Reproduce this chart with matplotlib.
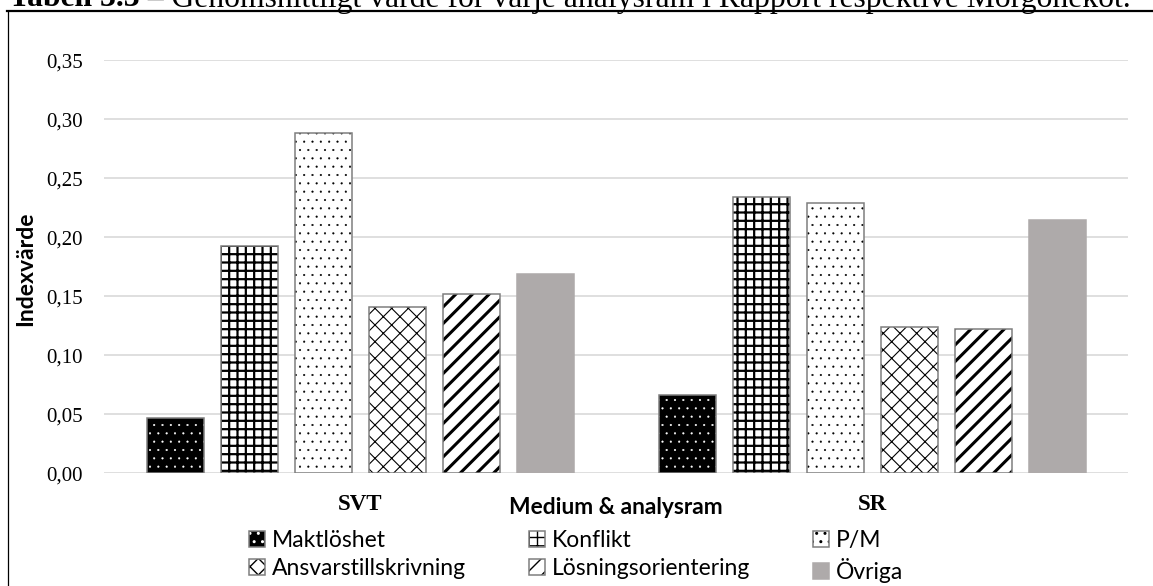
import matplotlib
matplotlib.use("Agg")
import matplotlib.pyplot as plt
from matplotlib.lines import Line2D
from matplotlib.legend_handler import HandlerTuple

# Values
media = ["SVT", "SR"]
frames = ["Maktlöshet", "Konflikt", "P/M", "Ansvarstillskrivning",
          "Lösningsorientering", "Övriga"]
maktloshet = [0.047, 0.066]
konflikt = [0.193, 0.234]
pm = [0.288, 0.229]
ansvar = [0.141, 0.124]
losning = [0.152, 0.122]
ovriga = [0.169, 0.215]
yticks = [0.00, 0.05, 0.10, 0.15, 0.20, 0.25, 0.30, 0.35]

title_bold = "Tabell 3.3"
title_rest = " – Genomsnittligt värde för varje analysram i Rapport respektive Morgonekot."

SERIF = "Liberation Serif"
SANS = "Lato"

W, H = 1153, 586
fig = plt.figure(figsize=(W / 100, H / 100), dpi=100)
ax = fig.add_axes([104 / W, 1 - 473.3 / H, 1024 / W, 413 / H])

series = [maktloshet, konflikt, pm, ansvar, losning, ovriga]
# facecolor, hatch, hatch colour, hatch linewidth, outline colour
styles = [
    ("black", "..", "white", 0.3, "#7f7f7f"),
    ("white", "++", "black", 1.6, "#7f7f7f"),
    ("white", "..", "black", 0.3, "#7f7f7f"),
    ("white", "xx", "black", 0.8, "#7f7f7f"),
    ("white", "//", "black", 2.2, "#7f7f7f"),
    ("#aeaaaa", None, "black", 1.0, "#aeaaaa"),
]

pitch = 74 / 512
width = 57 / 512
x = list(range(len(media)))
handles = []
for i, (vals, st) in enumerate(zip(series, styles)):
    face, hatch, hcol, hlw, edge = st
    pos = [xi + (i - 2.5) * pitch for xi in x]
    plt.rcParams["hatch.color"] = hcol
    plt.rcParams["hatch.linewidth"] = hlw
    filled = ax.bar(pos, vals, width, color=face, hatch=hatch, linewidth=0, zorder=2)
    for p in filled:
        if hasattr(p, "set_hatch_linewidth"):
            p.set_hatch_linewidth(hlw)
    outline = ax.bar(pos, vals, width, fill=False, edgecolor=edge, linewidth=1.1, zorder=3)
    handles.append((filled, outline))

ax.set_xlim(-0.5, 1.5)
ax.set_ylim(0, 0.35)
ax.set_yticks(yticks)
ax.set_yticklabels([f"{v:.2f}".replace(".", ",") for v in yticks],
                   fontfamily=SERIF, fontsize=15)
ax.set_xticks(x)
ax.set_xticklabels(media, fontfamily=SERIF, fontsize=16.5, fontweight="bold")
ax.tick_params(axis="both", length=0)
ax.tick_params(axis="y", pad=15)
ax.tick_params(axis="x", pad=15)
ax.grid(axis="y", color="#d9d9d9", linewidth=1.2, zorder=0)
ax.set_axisbelow(True)
for s in ax.spines.values():
    s.set_visible(False)

ax.set_xlabel("Medium & analysram", fontfamily=SANS, fontweight="bold",
              fontsize=16.4, va="center")
ax.xaxis.set_label_coords(0.5, -0.0816)
ax.set_ylabel("Indexvärde", fontfamily=SANS, fontweight="bold",
              fontsize=16.5, va="center")
ax.yaxis.set_label_coords(-0.077, 0.495)

order = [0, 3, 1, 4, 2, 5]
fig.legend([handles[k] for k in order], [frames[k] for k in order],
           handler_map={tuple: HandlerTuple(ndivide=1)},
           loc="upper left", bbox_to_anchor=(249 / W, 1 - 530 / H),
           ncol=3, frameon=False, prop={"family": SANS, "size": 16.5},
           borderpad=0, borderaxespad=0, handlelength=0.7, handleheight=0.7,
           handletextpad=0.3, columnspacing=2.75, labelspacing=0.3)

# frame round the chart, as in the scanned page
fig.add_artist(Line2D([7 / W, 1], [1 - 10.7 / H] * 2, color="black", linewidth=1.6))
fig.add_artist(Line2D([7.5 / W] * 2, [0, 1 - 10.7 / H], color="black", linewidth=0.9))

# table caption, mostly cut off by the top edge
x0, yb = 9 / W, 1 - 6.5 / H
t1 = fig.text(x0, yb, title_bold, fontfamily=SERIF, fontweight="bold",
              fontsize=20, va="baseline")
t2 = fig.text(x0, yb, title_rest, fontfamily=SERIF, fontsize=20, va="baseline")
r = fig.canvas.get_renderer()
w = t1.get_window_extent(r).width + t2.get_window_extent(r).width
fs = 20 * 1119 / w
t1.set_fontsize(fs)
t2.set_fontsize(fs)
t2.set_x(x0 + t1.get_window_extent(r).width / W)

fig.savefig("out.png", dpi=100)
